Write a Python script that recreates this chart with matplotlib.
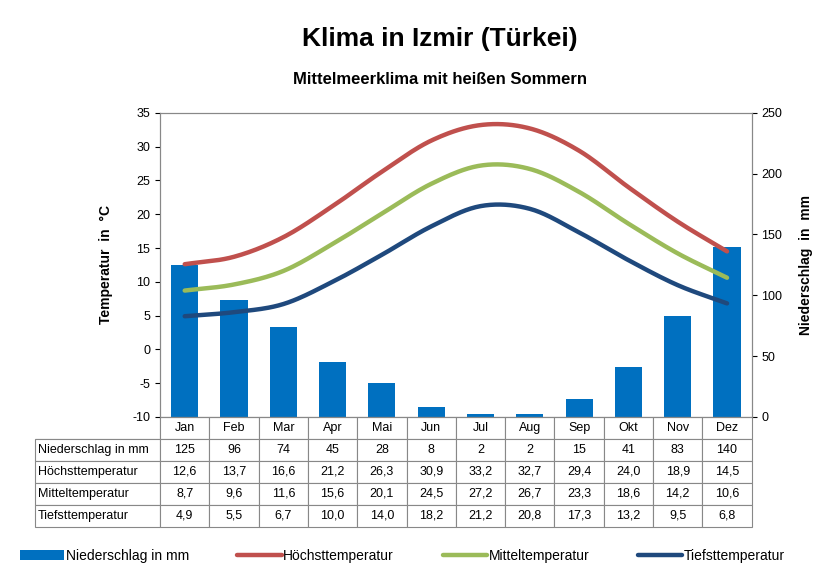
import numpy as np
import matplotlib
matplotlib.use("Agg")
import matplotlib.pyplot as plt

plt.rcParams["font.family"] = "Liberation Sans"
plt.rcParams["axes.unicode_minus"] = False

months = ["Jan","Feb","Mar","Apr","Mai","Jun","Jul","Aug","Sep","Okt","Nov","Dez"]
niederschlag = [125,96,74,45,28,8,2,2,15,41,83,140]
hoechst = [12.6,13.7,16.6,21.2,26.3,30.9,33.2,32.7,29.4,24.0,18.9,14.5]
mittel = [8.7,9.6,11.6,15.6,20.1,24.5,27.2,26.7,23.3,18.6,14.2,10.6]
tiefst = [4.9,5.5,6.7,10.0,14.0,18.2,21.2,20.8,17.3,13.2,9.5,6.8]

def smooth(y, n=20):
    y = np.asarray(y, float)
    p = np.concatenate([[2*y[0]-y[1]], y, [2*y[-1]-y[-2]]])
    xs, ys = [], []
    for i in range(1, len(p)-2):
        t = np.linspace(0, 1, n, endpoint=False)
        p0, p1, p2, p3 = p[i-1], p[i], p[i+1], p[i+2]
        v = 0.5*((2*p1) + (-p0+p2)*t + (2*p0-5*p1+4*p2-p3)*t**2 + (-p0+3*p1-3*p2+p3)*t**3)
        xs.extend(i-1+t); ys.extend(v)
    xs.append(len(y)-1); ys.append(y[-1])
    return np.array(xs), np.array(ys)

fig = plt.figure(figsize=(8.38, 5.79), dpi=100)
ax = fig.add_axes([0.191, 0.280, 0.706, 0.525])
ax2 = ax.twinx()
x = np.arange(12)
ax2.bar(x, niederschlag, width=0.55, color="#0070C0", label="Niederschlag in mm", zorder=1)
ax2.set_ylim(0, 250)
ax2.set_yticks(range(0, 251, 50))
ax.set_zorder(ax2.get_zorder()+1); ax.patch.set_visible(False)
for data, col, lab in [(hoechst,"#C0504D","Höchsttemperatur"),(mittel,"#9BBB59","Mitteltemperatur"),(tiefst,"#1F497D","Tiefsttemperatur")]:
    sx, sy = smooth(data)
    ax.plot(sx, sy, color=col, lw=3.2, label=lab, solid_capstyle="round")
ax.set_ylim(-10, 35)
ax.set_yticks(range(-10, 36, 5))
ax.set_xlim(-0.5, 11.5)
ax.set_xticks(np.arange(-0.5, 12, 1))
ax.set_xticklabels([])
ax.tick_params(axis="x", length=0)
for a in (ax, ax2):
    a.tick_params(labelsize=9)
    for s in a.spines.values(): s.set_color("#888888")
ax.set_ylabel("Temperatur  in  °C", fontsize=10, fontweight="bold", labelpad=14)
ax2.set_ylabel("Niederschlag  in  mm", fontsize=10, fontweight="bold", labelpad=12)

rows = ["Niederschlag in mm","Höchsttemperatur","Mitteltemperatur","Tiefsttemperatur"]
fmt = lambda v: f"{v:.1f}".replace(".", ",")
cells = [[""]+months,
         [rows[0]]+[str(v) for v in niederschlag],
         [rows[1]]+[fmt(v) for v in hoechst],
         [rows[2]]+[fmt(v) for v in mittel],
         [rows[3]]+[fmt(v) for v in tiefst]]
w = 1/12
tbl = ax.table(cellText=cells, cellLoc="center", bbox=[-0.211, -0.362, 1.211, 0.362],
               colWidths=[0.211/1.211]+[w/1.211]*12)
tbl.auto_set_font_size(False); tbl.set_fontsize(9)
for (r, c), cell in tbl.get_celld().items():
    cell.set_edgecolor("#888888"); cell.set_linewidth(0.8)
    if c == 0:
        cell.get_text().set_ha("left"); cell.PAD = 0.02
    if r == 0 and c == 0:
        cell.visible_edges = "BR"

h1, l1 = ax2.get_legend_handles_labels()
h2, l2 = ax.get_legend_handles_labels()
fig.legend(h1+h2, l1+l2, loc="center", bbox_to_anchor=(0.48, 0.04), ncol=4, frameon=False,
           fontsize=10, handlelength=3.2, handletextpad=0.1, columnspacing=3.5)
fig.text(0.525, 0.92, "Klima in Izmir (Türkei)", ha="center", fontsize=19, fontweight="bold")
fig.text(0.525, 0.855, "Mittelmeerklima mit heißen Sommern", ha="center", fontsize=12, fontweight="bold")
fig.savefig("out.png", dpi=100)
